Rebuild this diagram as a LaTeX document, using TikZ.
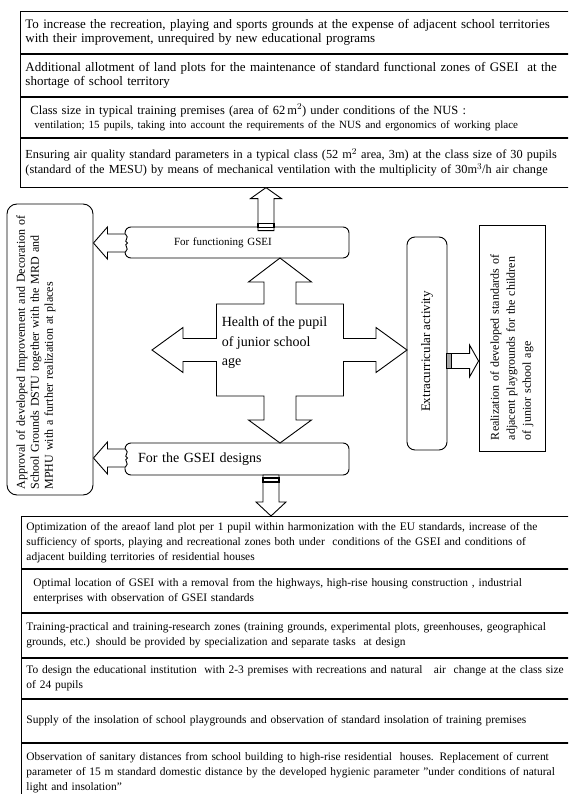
\documentclass[tikz,border=0pt]{standalone}
\usepackage{fontspec}
\setmainfont{Liberation Serif}
\usetikzlibrary{calc}

\begin{document}
\begin{tikzpicture}[x=1pt,y=-1pt,line width=0.9pt]
        \tikzstyle{row}=[draw,anchor=north west,minimum width=650pt,text width=640pt,inner xsep=3pt,align=left,font=\fontsize{13}{14}\selectfont]
        \tikzstyle{lowrow}=[row,font=\fontsize{11.45}{15}\selectfont]
        \tikzstyle{panel}=[draw,rounded corners=8pt,inner sep=0pt]
        \tikzstyle{block}=[draw,fill=white,line join=miter]
        \useasboundingbox (0,0) rectangle (568,794);
        \clip (0,0) rectangle (568,794);

        % Upper stack of measures
        \node[row,minimum height=42pt] (r1) at (20,11) {To increase the recreation, playing and sports grounds at the expense of adjacent school territories\\with their improvement, unrequired by new educational programs};
        \node[row,minimum height=42pt] (r2) at (r1.south west) {Additional allotment of land plots for the maintenance of standard functional zones of GSEI\ \ at the\\shortage of school territory};
        \node[row,minimum height=40pt,font=\fontsize{12.5}{14}\selectfont] (r3) at (r2.south west) {\hspace*{5pt}Class size in typical training premises (area of 62\,m$^2$) under conditions of the NUS :\\
            \fontsize{11}{13}\selectfont\hspace*{9pt}ventilation; 15 pupils, taking into account the requirements of the NUS and ergonomics of working place};
        \node[row,minimum height=49pt,font=\fontsize{12.3}{15}\selectfont] (r4) at (r3.south west) {Ensuring air quality standard parameters in a typical class (52 m$^2$ area, 3m) at the class size of 30 pupils\\(standard of the MESU) by means of mechanical ventilation with the multiplicity of 30m$^3$/h air change};

        % Side and middle boxes
        \node[panel,rounded corners=10pt,rotate=90,minimum width=291pt,minimum height=86pt] (apr) at (50,349.5) {};
        \node[rotate=90,text width=280pt,align=left,inner sep=0pt,font=\fontsize{12}{14}\selectfont] (aprtext) at (36,349.5) {Approval of developed Improvement and Decoration of\\School Grounds DSTU together with the MRD and\\MPHU with a further realization at places};
        \node[panel,rounded corners=6pt,minimum width=224pt,minimum height=31pt,text width=126pt,inner xsep=49pt,align=left,font=\fontsize{11}{13}\selectfont] (func) at (237,242.5) {For functioning GSEI};
        \node[panel,rounded corners=6pt,minimum width=224pt,minimum height=32pt,text width=198pt,inner xsep=13pt,align=left,font=\fontsize{14}{16}\selectfont] (design) at (237,459) {For the GSEI designs};
        \node[panel,rotate=90,minimum width=213pt,minimum height=40pt,font=\fontsize{13}{15}\selectfont] (extra) at (427,343.5) {Extracurricular activity\hspace*{16pt}};
        \node[draw,rotate=90,minimum width=226pt,minimum height=66pt,text width=204pt,align=left,font=\fontsize{12}{16}\selectfont] (real) at (512,338) {Realization of developed standards of\\adjacent playgrounds for the children\\of junior school age};

        % Lower stack of measures
        \node[lowrow,minimum height=52pt] (r5) at (21,516) {Optimization of the areaof land plot per 1 pupil within harmonization with the EU standards, increase of the\\sufficiency of sports, playing and recreational zones both under\ \ conditions of the GSEI and conditions of\\adjacent building territories of residential houses};
        \node[lowrow,minimum height=43pt] (r6) at (r5.south west) {\hspace*{7pt}Optimal location of GSEI with a removal from the highways, high-rise housing construction , industrial\\\hspace*{7pt}enterprises with observation of GSEI standards};
        \node[lowrow,minimum height=44pt] (r7) at (r6.south west) {Training-practical and training-research zones (training grounds, experimental plots, greenhouses, geographical\\grounds, etc.) should be provided by specialization and separate tasks\ \ at design};
        \node[lowrow,minimum height=40pt] (r8) at (r7.south west) {To design the educational institution\ \ with 2-3 premises with recreations and natural\ \ \ air\ \ change at the class size\\of 24 pupils};
        \node[lowrow,minimum height=43pt] (r9) at (r8.south west) {Supply of the insolation of school playgrounds and observation of standard insolation of training premises};
        \node[lowrow,minimum height=60pt] (r10) at (r9.south west) {Observation of sanitary distances from school building to high-rise residential\ \ houses. Replacement of current\\parameter of 15 m standard domestic distance by the developed hygienic parameter "under conditions of natural\\light and insolation"};

        % Cross arrow round the pupil
        \begin{scope}[shift={(280,350)}]
            \draw[block] (0,-92) -- (31.5,-68) -- (16,-68) -- (16,-46) -- (63.5,-46) -- (63.5,-11.5) -- (96,-11.5) -- (96,-22.5) -- (127,0) -- (96,22.5) -- (96,11.5) -- (63.5,11.5) -- (63.5,46) -- (16,46) -- (16,70) -- (31.5,70) -- (0,93) -- (-31.5,70) -- (-16,70) -- (-16,46) -- (-63.5,46) -- (-63.5,11.5) -- (-97,11.5) -- (-97,22.5) -- (-128,0) -- (-97,-22.5) -- (-97,-11.5) -- (-63.5,-11.5) -- (-63.5,-46) -- (-16,-46) -- (-16,-68) -- (-31.5,-68) -- cycle;
        \end{scope}
        \node[align=left,anchor=north west,font=\fontsize{14}{19.5}\selectfont] (health) at (218,313) {Health of the pupil\\of junior school\\age};

        % Arrow up to the upper stack
        \begin{scope}[shift={(r4.south -| 266,0)}]
            \draw[block] (0,0) -- (15.5,11) -- (8,11) -- (8,43) -- (-8,43) -- (-8,11) -- (-15.5,11) -- cycle;
            \draw[line width=1.2pt] (-8,36) rectangle (8,40);
        \end{scope}

        % Arrow down to the lower stack
        \begin{scope}[shift={(r5.north -| 271,0)}]
            \draw[block] (0,0) -- (15,-14) -- (8,-14) -- (8,-41) -- (-8,-41) -- (-8,-14) -- (-15,-14) -- cycle;
            \draw[line width=1.2pt] (-8,-38) rectangle (8,-34);
        \end{scope}

        % Arrow to the realization box
        \begin{scope}[shift={(real.north |- 0,361)}]
            \draw[block] (0,0) -- (-9,-16) -- (-9,-7.5) -- (-32,-7.5) -- (-32,7.5) -- (-9,7.5) -- (-9,16) -- cycle;
            \filldraw[fill=gray!70] (-32,-7.5) rectangle (-27,7.5);
        \end{scope}

        % Arrows to the approval box
        \foreach \yy in {243,458} {
            \begin{scope}[shift={(apr.south |- 0,\yy)}]
                \draw[block] (0,0) -- (14,-16) -- (14,-9) -- (32,-9) .. controls (37,-5) and (29,-2) .. (34,0) .. controls (29,2) and (37,5) .. (32,9) -- (14,9) -- (14,16) -- cycle;
            \end{scope}
        }
\end{tikzpicture}
\end{document}
